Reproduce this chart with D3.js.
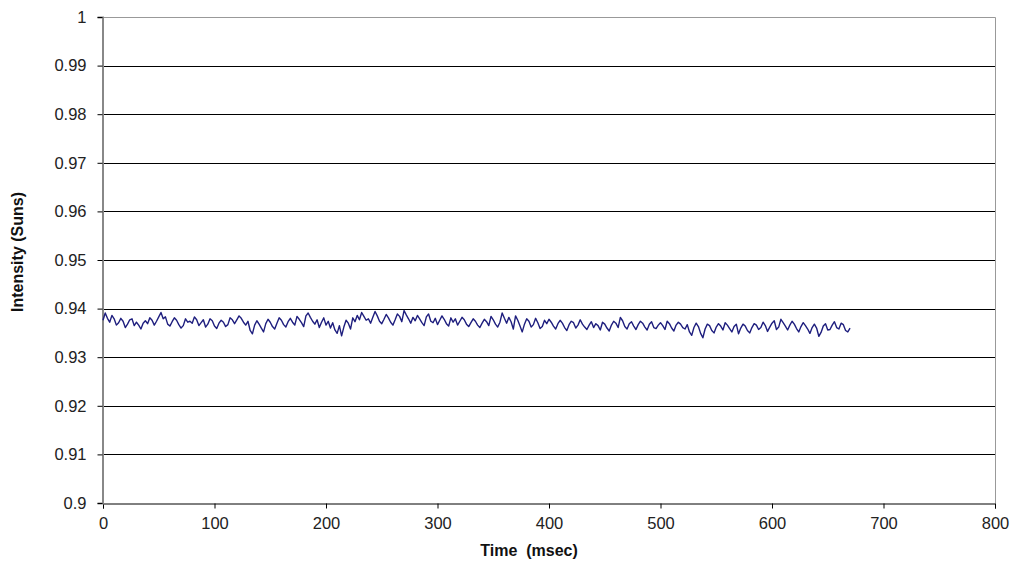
<!DOCTYPE html>
<html>
<head>
<meta charset="utf-8">
<script src="https://cdn.jsdelivr.net/npm/d3@7/dist/d3.min.js"></script>
<style>
  body { margin: 0; background: #fff; }
  svg { display: block; font-family: "Liberation Sans", Arial, sans-serif; }
</style>
</head>
<body>
<svg id="chart"></svg>
<script>
// sample spacing of the trace in msec
const sampleStep = 2;

// intensity readings (Suns), one every 2 msec from 0 to 670
const intensity = [
  0.9376,0.9391,0.9380,0.9372,0.9386,0.9379,0.9366,0.9371,0.9380,0.9374,0.9361,0.9368,0.9377,0.9379,0.9365,0.9372,0.9366,0.9358,0.9370,0.9375,
  0.9369,0.9381,0.9376,0.9366,0.9374,0.9383,0.9392,0.9379,0.9383,0.9368,0.9364,0.9373,0.9381,0.9376,0.9367,0.9360,0.9365,0.9379,0.9372,0.9374,
  0.9370,0.9383,0.9377,0.9365,0.9371,0.9377,0.9362,0.9368,0.9379,0.9375,0.9364,0.9359,0.9370,0.9376,0.9372,0.9363,0.9367,0.9381,0.9377,0.9369,
  0.9377,0.9385,0.9380,0.9372,0.9366,0.9374,0.9355,0.9348,0.9366,0.9375,0.9368,0.9360,0.9352,0.9369,0.9378,0.9372,0.9363,0.9358,0.9370,0.9381,
  0.9376,0.9367,0.9362,0.9373,0.9380,0.9372,0.9366,0.9384,0.9378,0.9371,0.9363,0.9385,0.9391,0.9382,0.9374,0.9368,0.9377,0.9361,0.9372,0.9381,
  0.9366,0.9374,0.9360,0.9371,0.9356,0.9349,0.9365,0.9344,0.9362,0.9376,0.9370,0.9358,0.9381,0.9373,0.9386,0.9377,0.9392,0.9384,0.9376,0.9379,
  0.9370,0.9382,0.9394,0.9385,0.9374,0.9369,0.9378,0.9388,0.9381,0.9372,0.9366,0.9377,0.9389,0.9384,0.9373,0.9396,0.9387,0.9379,0.9370,0.9382,
  0.9375,0.9386,0.9379,0.9371,0.9365,0.9383,0.9389,0.9374,0.9371,0.9380,0.9367,0.9376,0.9385,0.9378,0.9369,0.9364,0.9381,0.9372,0.9379,0.9366,
  0.9374,0.9382,0.9377,0.9368,0.9363,0.9371,0.9379,0.9374,0.9366,0.9361,0.9370,0.9378,0.9373,0.9365,0.9384,0.9377,0.9368,0.9362,0.9372,0.9391,
  0.9380,0.9370,0.9382,0.9373,0.9358,0.9385,0.9376,0.9364,0.9352,0.9368,0.9379,0.9374,0.9362,0.9367,0.9380,0.9371,0.9359,0.9363,0.9376,0.9369,
  0.9378,0.9372,0.9364,0.9358,0.9369,0.9376,0.9370,0.9361,0.9355,0.9367,0.9374,0.9371,0.9360,0.9366,0.9377,0.9368,0.9362,0.9357,0.9366,0.9373,
  0.9361,0.9369,0.9365,0.9356,0.9372,0.9368,0.9360,0.9354,0.9366,0.9374,0.9370,0.9361,0.9382,0.9375,0.9363,0.9358,0.9369,0.9373,0.9364,0.9357,
  0.9367,0.9374,0.9370,0.9362,0.9356,0.9368,0.9373,0.9361,0.9359,0.9366,0.9371,0.9365,0.9357,0.9374,0.9369,0.9360,0.9354,0.9366,0.9372,0.9368,
  0.9361,0.9358,0.9367,0.9352,0.9345,0.9361,0.9370,0.9363,0.9349,0.9340,0.9358,0.9368,0.9365,0.9355,0.9350,0.9362,0.9369,0.9364,0.9356,0.9371,
  0.9366,0.9359,0.9352,0.9363,0.9368,0.9348,0.9360,0.9368,0.9364,0.9355,0.9350,0.9361,0.9369,0.9366,0.9357,0.9361,0.9372,0.9365,0.9353,0.9362,
  0.9370,0.9375,0.9357,0.9362,0.9378,0.9371,0.9364,0.9356,0.9366,0.9374,0.9368,0.9359,0.9352,0.9363,0.9371,0.9365,0.9358,0.9349,0.9361,0.9368,
  0.9360,0.9343,0.9351,0.9364,0.9369,0.9356,0.9357,0.9366,0.9373,0.9361,0.9358,0.9370,0.9367,0.9355,0.9352,0.9360
];

const xTicks = [0, 100, 200, 300, 400, 500, 600, 700, 800];
const yTicks = [0.9, 0.91, 0.92, 0.93, 0.94, 0.95, 0.96, 0.97, 0.98, 0.99, 1];

const width = 1016;
const height = 564;
const margin = { top: 17, right: 21, bottom: 61, left: 103 };

const svg = d3.select("#chart")
    .attr("width", width)
    .attr("height", height);

const x = d3.scaleLinear()
    .domain([0, 800])
    .range([margin.left, width - margin.right]);

const y = d3.scaleLinear()
    .domain([0.9, 1])
    .range([height - margin.bottom, margin.top]);

// gridlines
svg.append("g")
    .selectAll("line")
    .data(yTicks.slice(1, -1))
    .enter()
    .append("line")
    .attr("x1", x(0))
    .attr("x2", x(800))
    .attr("y1", d => Math.round(y(d)) + 0.5)
    .attr("y2", d => Math.round(y(d)) + 0.5)
    .attr("stroke", "#000")
    .attr("stroke-width", 1);

// plot border (top and right)
svg.append("path")
    .attr("d", `M${x(0)},${Math.round(y(1)) + 0.5}H${Math.round(x(800)) + 0.5}V${Math.round(y(0.9))}`)
    .attr("fill", "none")
    .attr("stroke", "#999")
    .attr("stroke-width", 1);

// x axis
const xAxis = svg.append("g")
    .attr("transform", `translate(0, ${Math.round(y(0.9)) + 0.5})`)
    .call(d3.axisBottom(x).tickValues(xTicks).tickSize(5).tickPadding(9).tickFormat(d3.format("d")));
xAxis.select(".domain").attr("stroke", "#000");
xAxis.selectAll(".tick line").attr("stroke", "#000");
xAxis.selectAll("text")
    .attr("font-size", 16.5)
    .attr("fill", "#222")
    .attr("font-family", "Liberation Sans, Arial, sans-serif");

// y axis
const yAxis = svg.append("g")
    .attr("transform", `translate(${Math.round(x(0)) - 0.5}, 0)`)
    .call(d3.axisLeft(y).tickValues(yTicks).tickSize(5).tickPadding(11).tickFormat(d => d3.format("")(+d.toFixed(2))));
yAxis.select(".domain").attr("stroke", "#888").attr("stroke-width", 2);
yAxis.selectAll(".tick line").attr("stroke", "#000");
yAxis.selectAll("text")
    .attr("font-size", 16.5)
    .attr("fill", "#222")
    .attr("font-family", "Liberation Sans, Arial, sans-serif");

// intensity trace
const line = d3.line()
    .x((d, i) => x(i * sampleStep))
    .y(d => y(d));

svg.append("path")
    .datum(intensity)
    .attr("d", line)
    .attr("fill", "none")
    .attr("stroke", "#1e1e7e")
    .attr("stroke-width", 1.4)
    .attr("stroke-linejoin", "round");

// axis titles
svg.append("text")
    .attr("x", 529)
    .attr("y", 556)
    .attr("text-anchor", "middle")
    .attr("font-size", 16)
    .attr("font-weight", "bold")
    .attr("fill", "#111")
    .attr("xml:space", "preserve")
    .style("white-space", "pre")
    .text("Time  (msec)");

svg.append("text")
    .attr("transform", "translate(23, 252) rotate(-90)")
    .attr("text-anchor", "middle")
    .attr("font-size", 16)
    .attr("font-weight", "bold")
    .attr("fill", "#111")
    .text("Intensity (Suns)");
</script>
</body>
</html>
